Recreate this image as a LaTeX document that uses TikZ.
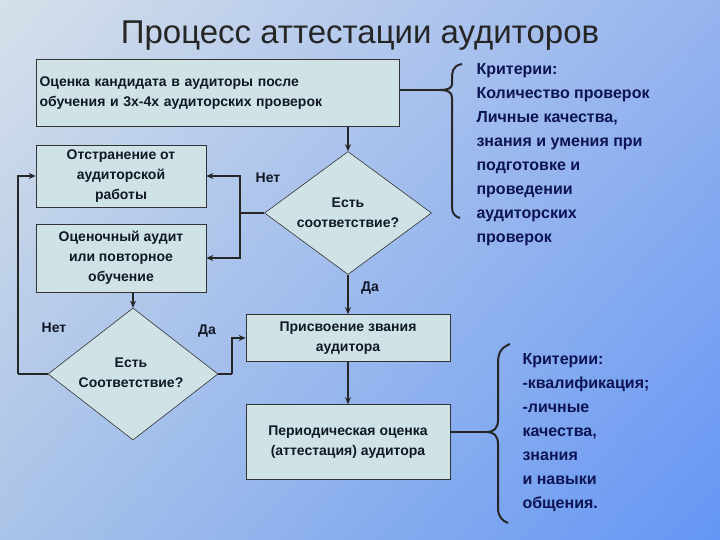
\documentclass[tikz,border=0pt]{standalone}
\usepackage{fontspec}
\setmainfont{Liberation Sans}
\usetikzlibrary{shapes.geometric,arrows.meta,shadings}
\definecolor{boxfill}{HTML}{CFE3E6}
\definecolor{txt}{HTML}{101828}
\definecolor{bgul}{RGB}{214,224,234}
\definecolor{bgur}{RGB}{150,180,238}
\definecolor{bgll}{RGB}{170,195,232}
\definecolor{bglr}{RGB}{100,150,245}
\begin{document}
\begin{tikzpicture}[x=1pt,y=-1pt,
  box/.style={draw=black!80,fill=boxfill,line width=0.6pt,inner sep=0pt,font=\bfseries\fontsize{14}{20}\selectfont,text=txt,align=center},
  dia/.style={diamond,draw=black!80,fill=boxfill,line width=0.6pt,inner sep=0pt},
  conn/.style={line width=2pt,draw=black!85},
  arr/.style={conn,-{Stealth[length=7pt,width=6pt]}},
  lbl/.style={font=\bfseries\fontsize{14}{20}\selectfont,text=txt},
  crit/.style={font=\bfseries\fontsize{16}{24}\selectfont,text=txt!80!blue,align=left,anchor=north west}]
\useasboundingbox (0,0) rectangle (720,540);
\shade[upper left=bgul,upper right=bgur,lower left=bgll,lower right=bglr] (0,0) rectangle (720,540);
\node[font=\fontsize{33}{38}\selectfont,text=black!85] (title) at (360,36) {Процесс аттестации аудиторов};
\node[box,minimum width=363pt,minimum height=67pt,align=left,text width=357pt] (b1) at (218,93) {Оценка кандидата в аудиторы после\\обучения и 3х-4х аудиторских проверок};
\node[dia,minimum width=167pt,minimum height=123pt] (d1) at (348,213) {};
\node[lbl,align=center] (d1t) at (348,213) {Есть\\соответствие?};
\node[box,minimum width=170pt,minimum height=62pt] (b2) at (121,176) {Отстранение от\\аудиторской\\работы};
\node[box,minimum width=170pt,minimum height=68pt] (b3) at (121,258) {Оценочный аудит\\или повторное\\обучение};
\node[dia,minimum width=170pt,minimum height=132pt] (d2) at (133,374) {};
\node[lbl,align=center] (d2t) at (131,373) {Есть\\Соответствие?};
\node[box,minimum width=204pt,minimum height=47pt] (b4) at (348,338) {Присвоение звания\\аудитора};
\node[box,minimum width=204pt,minimum height=75pt] (b5) at (348,442) {Периодическая оценка\\(аттестация) аудитора};
\coordinate (k1) at (240,213);
\coordinate (k2) at (18,374);
\coordinate (k3) at (232,374);
\draw[arr] (b1.south -| d1.north) -- (d1.north);
\draw[conn] (d1.west) -- (k1);
\draw[arr] (k1) |- (b2.east);
\draw[arr] (k1) |- (b3.east);
\draw[arr] (d1.south) -- (b4.north);
\draw[arr] (b4.south) -- (b5.north);
\draw[arr] (b3.south -| d2.north) -- (d2.north);
\draw[conn] (d2.west) -- (k2);
\draw[arr] (k2) |- (b2.west);
\draw[conn] (d2.east) -- (k3);
\draw[arr] (k3) |- (b4.west);
\node[lbl] (n1) at (268,178) {Нет};
\node[lbl] (y1) at (370,288) {Да};
\node[lbl] (n2) at (54,328) {Нет};
\node[lbl] (y2) at (207,331) {Да};
% braces
\coordinate (br1) at (440,90);
\coordinate (br2) at (487,432);
\draw[conn] (b1.east |- br1) -- (br1);
\draw[conn] (b5.east |- br2) -- (br2);
\draw[line width=2pt,draw=black!85] (462,64) .. controls (452,66) and (452,72) .. (452,80) -- (452,84) .. controls (452,88) and (448,90) .. (br1) .. controls (448,90) and (452,92) .. (452,98) -- (452,208) .. controls (452,214) and (456,217) .. (460,218);
\draw[line width=2pt,draw=black!85] (510,344) .. controls (500,348) and (498,354) .. (498,364) -- (498,420) .. controls (498,428) and (494,432) .. (br2) .. controls (494,432) and (498,436) .. (498,444) -- (498,508) .. controls (498,516) and (502,521) .. (508,523);
\node[crit] (c1) at (473,60) {Критерии:\\Количество проверок\\Личные качества,\\знания и умения при\\подготовке и\\проведении\\аудиторских\\проверок};
\node[crit] (c2) at (519,350) {Критерии:\\-квалификация;\\-личные\\качества,\\знания\\и навыки\\общения.};
\end{tikzpicture}
\end{document}
